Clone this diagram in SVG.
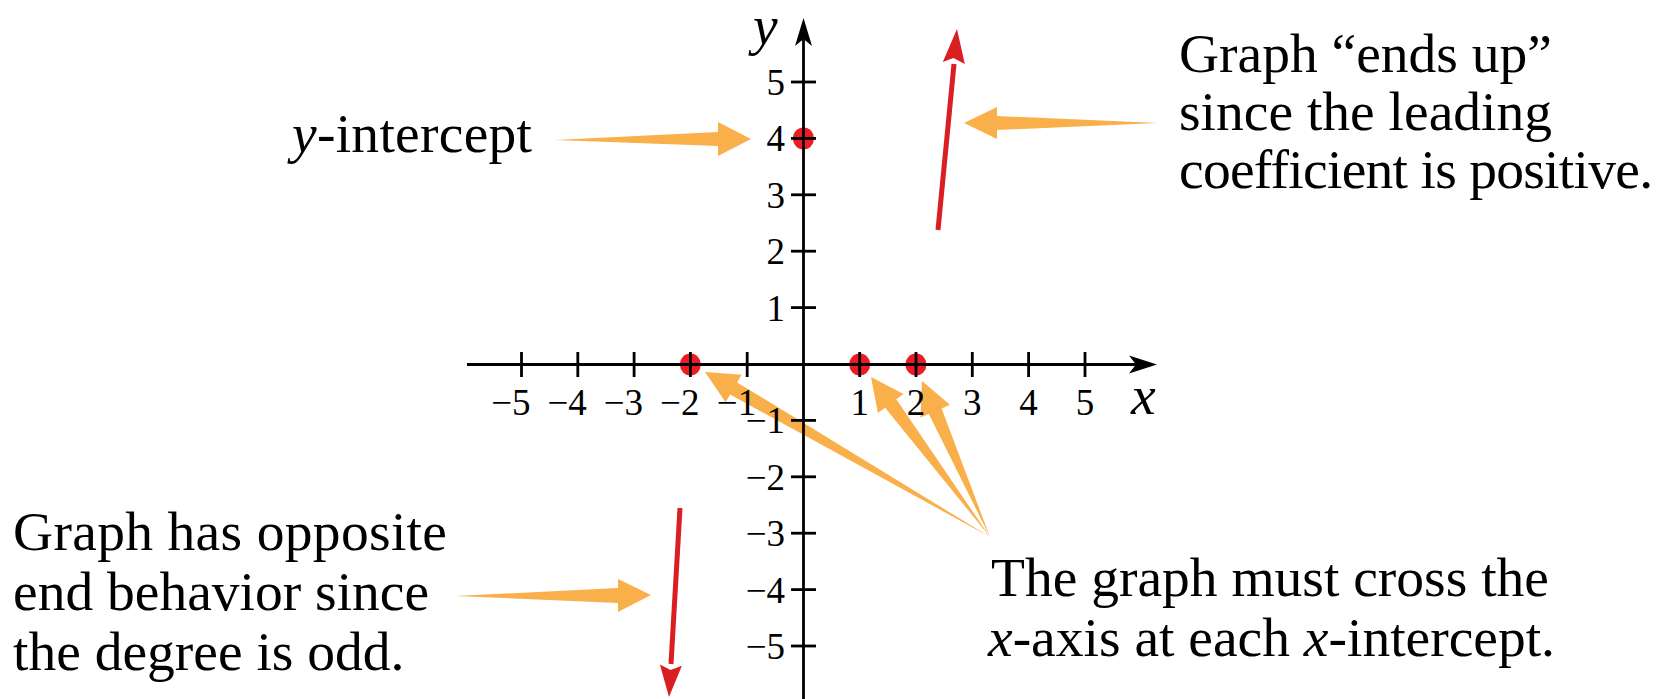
<svg xmlns="http://www.w3.org/2000/svg" width="1659" height="699" viewBox="0 0 1659 699">
<style>
.axis{stroke:#000;stroke-width:2.8;fill:none}
.tick{stroke:#000;stroke-width:2.8}
.num{font-family:"Liberation Serif","Times New Roman",serif;font-size:37px;fill:#000}
.lab{font-family:"Liberation Serif","Times New Roman",serif;font-size:55.5px;fill:#000}
.it{font-style:italic}
.callout{fill:#F9B04A}
.red{stroke:#DA1F22;stroke-width:5;fill:none}
.redhead{fill:#DA1F22}
.dot{fill:#EC1C24}
</style>
<rect width="1659" height="699" fill="#fff"/>

<g id="connectors">
  <polygon class="callout" points="555,140 718,132 718,122 751,139 718,156 718,146"/>
  <polygon class="callout" points="1158,123 997,116 997,107 964,123 997,139 997,130"/>
  <polygon class="callout" points="455,596 618,588 618,579 651,595 618,612 618,603"/>
  <polygon class="callout" points="990,537 737.1,382.4 741.6,374.65 705,372 725.6,402.35 730.1,394.6"/>
  <polygon class="callout" points="990,537 896.3,399.3 903.5,394.0 871,377 877.9,413.0 885.1,407.7"/>
  <polygon class="callout" points="990,537 941.6,408.4 949.9,404.8 922,381 920.5,417.6 928.8,414.0"/>
</g>

<g id="intercept-dots">
  <ellipse class="dot" cx="803.5" cy="138.4" rx="10.5" ry="11"/>
  <ellipse class="dot" cx="690.4" cy="364.5" rx="10.5" ry="11"/>
  <ellipse class="dot" cx="859.7" cy="364.5" rx="10.5" ry="11"/>
  <ellipse class="dot" cx="916" cy="364.5" rx="10.5" ry="11"/>
</g>

<g id="axes">
  <line class="axis" x1="467" y1="364.5" x2="1140" y2="364.5"/>
  <polygon points="1157,364.5 1129,355.5 1136,364.5 1129,373.5" fill="#000"/>
  <line class="axis" x1="803.5" y1="699" x2="803.5" y2="35"/>
  <polygon points="803.5,18 795,46 803.5,39 812,46" fill="#000"/>
  <g id="x-ticks">
    <line class="tick" x1="521.5" y1="352" x2="521.5" y2="377"/>
    <line class="tick" x1="577.8" y1="352" x2="577.8" y2="377"/>
    <line class="tick" x1="634.1" y1="352" x2="634.1" y2="377"/>
    <line class="tick" x1="690.4" y1="352" x2="690.4" y2="377"/>
    <line class="tick" x1="747.2" y1="352" x2="747.2" y2="377"/>
    <line class="tick" x1="859.7" y1="352" x2="859.7" y2="377"/>
    <line class="tick" x1="916" y1="352" x2="916" y2="377"/>
    <line class="tick" x1="972.3" y1="352" x2="972.3" y2="377"/>
    <line class="tick" x1="1028.6" y1="352" x2="1028.6" y2="377"/>
    <line class="tick" x1="1085" y1="352" x2="1085" y2="377"/>
  </g>
  <g id="y-ticks">
    <line class="tick" x1="791" y1="82" x2="816" y2="82"/>
    <line class="tick" x1="791" y1="138.4" x2="816" y2="138.4"/>
    <line class="tick" x1="791" y1="194.8" x2="816" y2="194.8"/>
    <line class="tick" x1="791" y1="251.2" x2="816" y2="251.2"/>
    <line class="tick" x1="791" y1="307.6" x2="816" y2="307.6"/>
    <line class="tick" x1="791" y1="420.4" x2="816" y2="420.4"/>
    <line class="tick" x1="791" y1="476.8" x2="816" y2="476.8"/>
    <line class="tick" x1="791" y1="533.2" x2="816" y2="533.2"/>
    <line class="tick" x1="791" y1="589.6" x2="816" y2="589.6"/>
    <line class="tick" x1="791" y1="646" x2="816" y2="646"/>
  </g>
  <g id="x-labels" class="num">
    <text x="530.5" y="415" text-anchor="end">−5</text>
    <text x="586.8" y="415" text-anchor="end">−4</text>
    <text x="643.1" y="415" text-anchor="end">−3</text>
    <text x="699.4" y="415" text-anchor="end">−2</text>
    <text x="756.2" y="415" text-anchor="end">−1</text>
    <text x="859.7" y="415" text-anchor="middle">1</text>
    <text x="916" y="415" text-anchor="middle">2</text>
    <text x="972.3" y="415" text-anchor="middle">3</text>
    <text x="1028.6" y="415" text-anchor="middle">4</text>
    <text x="1085" y="415" text-anchor="middle">5</text>
  </g>
  <g id="y-labels" class="num" text-anchor="end">
    <text x="785" y="95">5</text>
    <text x="785" y="151.4">4</text>
    <text x="785" y="207.8">3</text>
    <text x="785" y="264.2">2</text>
    <text x="785" y="320.6">1</text>
    <text x="785" y="433.4">−1</text>
    <text x="785" y="489.8">−2</text>
    <text x="785" y="546.2">−3</text>
    <text x="785" y="602.6">−4</text>
    <text x="785" y="659">−5</text>
  </g>
  <text class="lab it" x="1131" y="414">x</text>
  <text class="lab it" x="753" y="44">y</text>
</g>

<g id="end-arrows">
  <line class="red" x1="938" y1="230" x2="954" y2="64"/>
  <polygon class="redhead" points="957,29 964.8,64 953.5,58 942.8,62"/>
  <line class="red" x1="680" y1="508" x2="671" y2="664"/>
  <polygon class="redhead" points="669,697 659.9,664.4 670.5,670 681.9,665.7"/>
</g>

<g id="label-yintercept">
  <text class="lab" x="292" y="152" textLength="240" lengthAdjust="spacing"><tspan class="it">y</tspan>-intercept</text>
</g>
<g id="label-ends-up" class="lab">
  <text x="1179" y="72">Graph “ends up”</text>
  <text x="1179" y="130">since the leading</text>
  <text x="1179" y="188" textLength="474" lengthAdjust="spacing">coefficient is positive.</text>
</g>
<g id="label-odd-degree" class="lab">
  <text x="13" y="550" textLength="434" lengthAdjust="spacing">Graph has opposite</text>
  <text x="13" y="610">end behavior since</text>
  <text x="13" y="670">the degree is odd.</text>
</g>
<g id="label-cross" class="lab">
  <text x="991" y="596">The graph must cross the</text>
  <text x="988" y="656"><tspan class="it">x</tspan>-axis at each <tspan class="it">x</tspan>-intercept.</text>
</g>
</svg>
